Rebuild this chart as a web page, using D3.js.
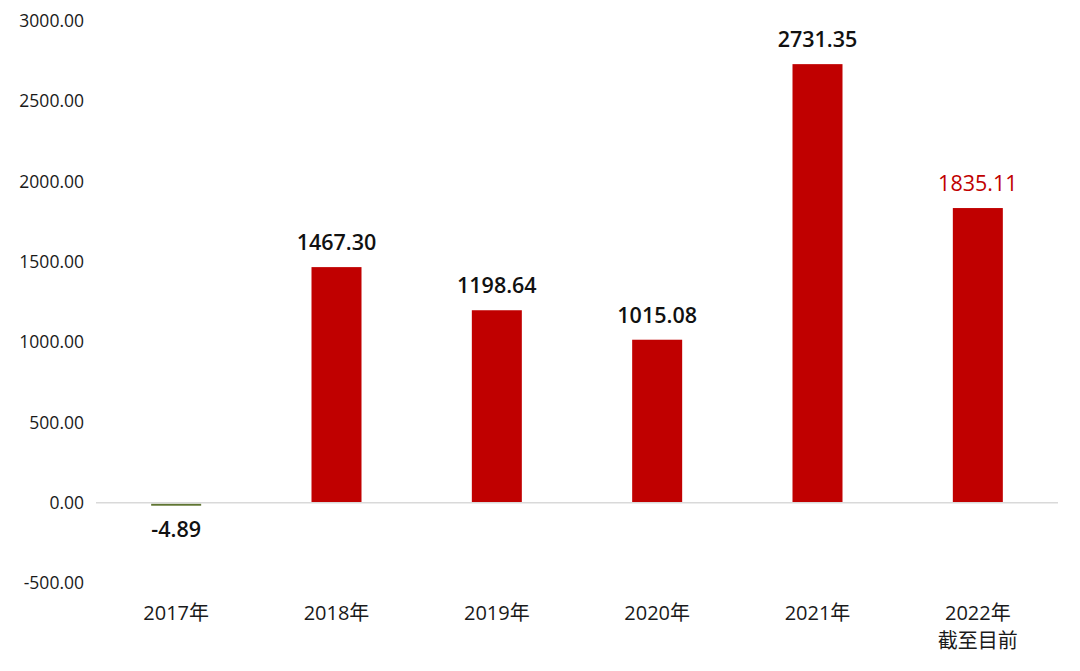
<!DOCTYPE html>
<html>
<head>
<meta charset="utf-8">
<script src="https://cdn.jsdelivr.net/npm/d3@7"></script>
<style>
  body { margin: 0; background: #fff; }
  svg text { font-family: "Open Sans", "Noto Sans CJK SC", sans-serif; }
</style>
</head>
<body>
<div id="chart"></div>
<script>
// data
var years = ["2017年", "2018年", "2019年", "2020年", "2021年", "2022年\n截至目前"];
var values = [-4.89, 1467.30, 1198.64, 1015.08, 2731.35, 1835.11];
var yTicks = [-500, 0, 500, 1000, 1500, 2000, 2500, 3000];

var margin = {top: 21, right: 22, bottom: 88, left: 96},
    width = 1080 - margin.left - margin.right,
    height = 671 - margin.top - margin.bottom;

var fmt = function(d) { return d3.format(".2f")(d).replace("−", "-"); };

var svg = d3.select("#chart").append("svg")
    .attr("width", 1080)
    .attr("height", 671)
  .append("g")
    .attr("transform", "translate(" + margin.left + "," + margin.top + ")");

var x = d3.scaleBand().domain(years).range([0, width]);
var y = d3.scaleLinear().domain([-500, 3000]).range([height, 0]);

// y labels, no axis line
svg.selectAll(".ytick")
    .data(yTicks)
  .enter().append("text")
    .attr("class", "ytick")
    .attr("x", -12)
    .attr("y", function(d) { return y(d); })
    .attr("dy", "0.35em")
    .attr("text-anchor", "end")
    .attr("font-size", 17.5)
    .attr("fill", "#1a1a1a")
    .text(fmt);

// bars (keep tiny ones visible, like the original)
var bw = 50;
svg.selectAll(".bar")
    .data(values)
  .enter().append("rect")
    .attr("class", "bar")
    .attr("x", function(d, i) { return x(years[i]) + x.bandwidth() / 2 - bw / 2; })
    .attr("y", function(d) { return y(Math.max(0, d)) + (d < 0 ? 1 : 0); })
    .attr("width", bw)
    .attr("height", function(d) { return Math.max(2, Math.abs(y(d) - y(0))); })
    .attr("fill", function(d) { return d < 0 ? "#5f7532" : "#c00000"; });

// zero line
svg.append("line")
    .attr("x1", 0).attr("x2", width)
    .attr("y1", y(0)).attr("y2", y(0))
    .attr("stroke", "#d9d9d9")
    .attr("stroke-width", 1.5);

// value labels
svg.selectAll(".val")
    .data(values)
  .enter().append("text")
    .attr("class", "val")
    .attr("x", function(d, i) { return x(years[i]) + x.bandwidth() / 2; })
    .attr("y", function(d) { return d < 0 ? y(d) + 34 : y(d) - 17; })
    .attr("text-anchor", "middle")
    .attr("font-size", 21.5)
    .attr("font-weight", function(d, i) { return i === values.length - 1 ? 400 : 600; })
    .attr("fill", function(d, i) { return i === values.length - 1 ? "#c00000" : "#111"; })
    .text(fmt);

// category labels
var cat = svg.selectAll(".cat")
    .data(years)
  .enter().append("text")
    .attr("class", "cat")
    .attr("x", function(d) { return x(d) + x.bandwidth() / 2; })
    .attr("y", height + 37)
    .attr("text-anchor", "middle")
    .attr("font-size", 20)
    .attr("fill", "#1a1a1a");

cat.selectAll("tspan")
    .data(function(d) { return d.split("\n"); })
  .enter().append("tspan")
    .attr("x", function() { return d3.select(this.parentNode).attr("x"); })
    .attr("dy", function(d, i) { return i === 0 ? 0 : 28; })
    .text(function(d) { return d; });
</script>
</body>
</html>
